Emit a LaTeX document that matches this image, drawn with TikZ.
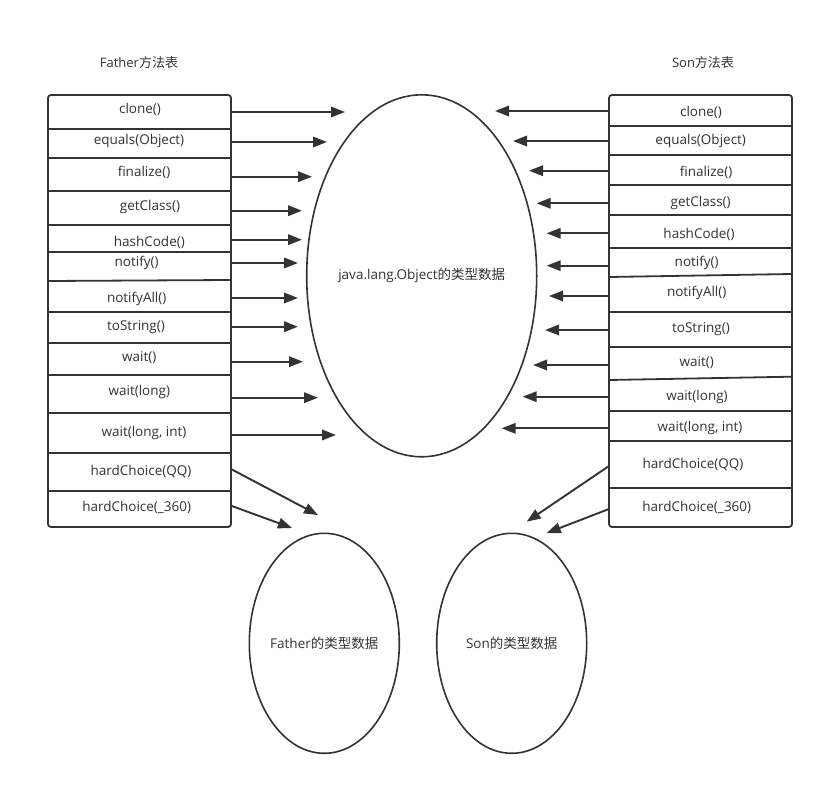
\documentclass[tikz,border=0pt]{standalone}
\usepackage{fontspec}
\setmainfont{Open Sans}
\newfontfamily\cjk{Noto Sans CJK SC}
\usetikzlibrary{arrows.meta,shapes.geometric}
\definecolor{ink}{HTML}{333333}
\tikzset{
  lbl/.style={inner sep=0pt, text=ink, font=\fontsize{13.5}{16}\selectfont},
  ttl/.style={inner sep=0pt, text=ink, font=\fontsize{13}{16}\selectfont},
  tablebox/.style={draw=ink, line width=1.8pt, rounded corners=3pt},
  divline/.style={draw=ink, line width=1.8pt},
  arr/.style={draw=ink, line width=1.9pt, -{Triangle[length=14pt,width=10.5pt]}},
  typedata/.style={ellipse, draw=ink, line width=1.6pt, inner sep=0pt, outer sep=0pt, text=ink, font=\fontsize{13.5}{16}\selectfont},
}
\begin{document}
\begin{tikzpicture}[x=1pt,y=-1pt]
\useasboundingbox[fill=white] (0,0) rectangle (824,786);

% titles
\node[ttl] (ftitle) at (139,63) {Father{\cjk 方法表}};
\node[ttl] (stitle) at (703,63) {Son{\cjk 方法表}};

% left table
\draw[tablebox] (48,95) rectangle (231,527);
\foreach \y in {129,157.7,191,225,252,312,342.7,375,413,453,491}
  \draw[divline] (48,\y) -- (231,\y);
\draw[divline] (48,281) -- (231,280);

% right table
\draw[tablebox] (609,95) rectangle (792,527);
\foreach \y in {125.7,155,185,215,248,312,347,411,440.7,487.7}
  \draw[divline] (609,\y) -- (792,\y);
\draw[divline] (609,277) -- (792,274);
\draw[divline] (609,380) -- (792,376.7);

% left labels
\foreach \i/\x/\y/\t in {
  1/140/109/clone(),
  2/139/141/equals(Object),
  3/144/172.7/finalize(),
  4/150/207/getClass(),
  5/149.3/242/hashCode(),
  6/136.7/263/notify(),
  7/136.7/299/notifyAll(),
  8/136/327/toString(),
  9/139.3/358/wait(),
  10/139.3/391.7/wait(long),
  11/144/432.7/{wait(long, int)},
  12/141/472/hardChoice(QQ),
  13/136.7/507/hardChoice(\_360)}
  \node[lbl] (fm\i) at (\x,\y) {\t};

% right labels
\foreach \i/\x/\y/\t in {
  1/701/112.7/clone(),
  2/700.7/141/equals(Object),
  3/706/172.7/finalize(),
  4/700.7/202.7/getClass(),
  5/699/234/hashCode(),
  6/696.7/263/notify(),
  7/696.7/292.7/notifyAll(),
  8/701/329/toString(),
  9/696.7/363/wait(),
  10/697/396.7/wait(long),
  11/700/427.7/{wait(long, int)},
  12/693/465/hardChoice(QQ),
  13/696.7/507/hardChoice(\_360)}
  \node[lbl] (sm\i) at (\x,\y) {\t};

% ellipses
\node[typedata, minimum width=230pt, minimum height=362pt] (obj) at (421.7,275.8) {\makebox[0pt]{java.lang.Object{\cjk 的类型数据}}};
\node[typedata, minimum width=150pt, minimum height=220pt] (fdata) at (324.3,643.3) {\makebox[0pt]{Father{\cjk 的类型数据}}};
\node[typedata, minimum width=150pt, minimum height=220pt] (sdata) at (511.7,643.3) {\makebox[0pt]{Son{\cjk 的类型数据}}};

% left arrows
\foreach \i/\y/\tx in {1/112/345, 2/142/327, 3/176.7/312, 4/210.7/302, 5/239.7/302,
  6/263/298, 7/298/298, 8/326.7/298, 9/361.7/303, 10/397.7/318, 11/435/336} {
  \coordinate (fs\i) at (231,\y);
  \coordinate (ft\i) at (\tx,\y);
  \draw[arr] (fs\i) -- (ft\i);
}
\coordinate (fs12) at (231,469);
\coordinate (ft12) at (318,515);
\draw[arr] (fs12) -- (ft12);
\coordinate (fs13) at (231,505.7);
\coordinate (ft13) at (292,528);
\draw[arr] (fs13) -- (ft13);

% right arrows
\foreach \i/\y/\tx in {1/111/495, 2/141/513, 3/170.7/529, 4/203.3/536.7, 5/233.3/546.7,
  6/265.7/546.7, 7/296/549, 8/330/545, 9/365/533, 10/396.7/522.7, 11/428.3/501.7} {
  \coordinate (ss\i) at (609,\y);
  \coordinate (st\i) at (\tx,\y);
  \draw[arr] (ss\i) -- (st\i);
}
\coordinate (ss12) at (609,466);
\coordinate (st12) at (526.7,521.7);
\draw[arr] (ss12) -- (st12);
\coordinate (ss13) at (609,509);
\coordinate (st13) at (546.7,533);
\draw[arr] (ss13) -- (st13);
\end{tikzpicture}
\end{document}
